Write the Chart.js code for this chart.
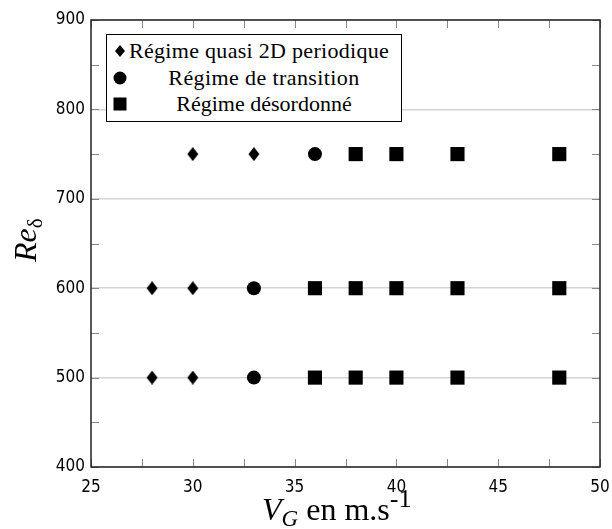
<!DOCTYPE html>
<html>
<head>
<meta charset="utf-8">
<script src="https://cdn.jsdelivr.net/npm/chart.js@4"></script>
<style>
  body { margin: 0; background: #fff; }
  #wrap { position: relative; width: 612px; height: 529px; }
  #legend {
    position: absolute; left: 106px; top: 34px; width: 296px; height: 88px;
    border: 1px solid #000; box-sizing: border-box; background: #fff;
  }
  .row { position: absolute; left: 0; right: 0; height: 26px; line-height: 26px; }
  .mk { position: absolute; left: 6px; top: 6px; width: 14px; height: 14px; }
  .txt {
    position: absolute; left: 24px; right: 4px; text-align: center; white-space: nowrap;
    font-family: 'Liberation Serif'; font-size: 22px; color: #000;
  }
  .title {
    position: absolute; font-family: 'Liberation Serif'; color: #000; white-space: nowrap;
    font-size: 32px; line-height: 32px;
  }
  .title span { position: relative; }
</style>
</head>
<body>
<div id="wrap">
  <canvas id="chart" width="612" height="529"></canvas>
  <div id="legend">
    <div class="row" style="top:3px"><canvas class="mk" width="14" height="14" data-shape="diamond"></canvas><div class="txt" style="left:22px;text-align:left;letter-spacing:0.3px">Régime quasi 2D periodique</div></div>
    <div class="row" style="top:30px"><canvas class="mk" width="14" height="14" data-shape="circle"></canvas><div class="txt" style="letter-spacing:0.4px">Régime de transition</div></div>
    <div class="row" style="top:56px"><canvas class="mk" width="14" height="14" data-shape="square"></canvas><div class="txt">Régime désordonné</div></div>
  </div>
  <div class="title" style="left:9px; top:262px; transform:rotate(-90deg); transform-origin:0 0;"><i>Re</i><span style="font-size:21px; top:6px">δ</span></div>
  <div class="title" style="left:262px; top:493px;"><i>V</i><span style="font-size:23px; top:6px"><i>G</i></span> en m.s<span style="font-size:26px; top:-13px">-1</span></div>
</div>
<script>
// --- Data ---
const periodicX = [30, 33, 28, 30, 28, 30];
const periodicY = [750, 750, 600, 600, 500, 500];
const transitionX = [36, 33, 33];
const transitionY = [750, 600, 500];
const disorderX = [38, 40, 43, 48, 36, 38, 40, 43, 48, 36, 38, 40, 43, 48];
const disorderY = [750, 750, 750, 750, 600, 600, 600, 600, 600, 500, 500, 500, 500, 500];
const xTicks = [25, 30, 35, 40, 45, 50];
const yTicks = [400, 500, 600, 700, 800, 900];

const toPoints = (xs, ys) => xs.map((x, i) => ({ x: x, y: ys[i] }));

// tall diamond marker
const diamond = document.createElement('canvas');
diamond.width = 12; diamond.height = 14;
(function () {
    const c = diamond.getContext('2d');
    c.fillStyle = '#000';
    c.beginPath();
    c.moveTo(6, 0); c.lineTo(11.5, 7); c.lineTo(6, 14); c.lineTo(0.5, 7);
    c.closePath(); c.fill();
})();

// legend markers
document.querySelectorAll('.mk').forEach(cv => {
    const c = cv.getContext('2d');
    c.fillStyle = '#000';
    const s = cv.dataset.shape;
    if (s === 'diamond') {
        c.beginPath(); c.moveTo(7, 1); c.lineTo(12, 7); c.lineTo(7, 13); c.lineTo(2, 7); c.closePath(); c.fill();
    } else if (s === 'circle') {
        c.beginPath(); c.arc(7, 7, 6.5, 0, Math.PI * 2); c.fill();
    } else {
        c.fillRect(0.5, 0.5, 13, 13);
    }
});

// inner ticks on all four sides
const innerTicks = {
    id: 'innerTicks',
    afterDatasetsDraw(chart) {
        const { ctx, chartArea: a, scales: { x, y } } = chart;
        ctx.save();
        ctx.strokeStyle = '#888';
        ctx.lineWidth = 1;
        ctx.beginPath();
        for (let v = 25; v <= 50; v += 2.5) {
            const px = Math.round(x.getPixelForValue(v)) + 0.5;
            ctx.moveTo(px, a.bottom); ctx.lineTo(px, a.bottom - 8);
            ctx.moveTo(px, a.top); ctx.lineTo(px, a.top + 8);
        }
        for (let v = 400; v <= 900; v += 50) {
            const py = Math.round(y.getPixelForValue(v)) + 0.5;
            ctx.moveTo(a.left, py); ctx.lineTo(a.left + 8, py);
            ctx.moveTo(a.right, py); ctx.lineTo(a.right - 8, py);
        }
        ctx.stroke();
        ctx.strokeStyle = '#222';
        ctx.lineWidth = 1.5;
        ctx.strokeRect(a.left, a.top, a.right - a.left, a.bottom - a.top);
        ctx.restore();
    }
};

const tickFont = { family: '"DejaVu Sans Condensed", "DejaVu Sans", sans-serif', size: 17 };

new Chart(document.getElementById('chart'), {
    type: 'scatter',
    data: {
        datasets: [
            { label: 'Régime quasi 2D periodique', data: toPoints(periodicX, periodicY), pointStyle: diamond, backgroundColor: '#000', borderColor: '#000' },
            { label: 'Régime de transition', data: toPoints(transitionX, transitionY), pointStyle: 'circle', pointRadius: 7, backgroundColor: '#000', borderColor: '#000', borderWidth: 0 },
            { label: 'Régime désordonné', data: toPoints(disorderX, disorderY), pointStyle: 'rect', pointRadius: 10, backgroundColor: '#000', borderColor: '#000', borderWidth: 0 }
        ]
    },
    options: {
        responsive: false,
        animation: false,
        events: [],
        layout: { padding: { left: 0, top: 20, right: 12, bottom: 0 } },
        plugins: { legend: { display: false }, tooltip: { enabled: false } },
        scales: {
            x: {
                type: 'linear', min: 25, max: 50,
                afterBuildTicks: s => { s.ticks = xTicks.map(v => ({ value: v })); },
                afterFit: s => { s.height = 62; },
                grid: { display: false },
                border: { display: false },
                ticks: { color: '#000', font: tickFont, padding: 2, maxRotation: 0 }
            },
            y: {
                type: 'linear', min: 400, max: 900,
                afterBuildTicks: s => { s.ticks = yTicks.map(v => ({ value: v })); },
                afterFit: s => { s.width = 91; },
                grid: { color: '#d4d4d4', lineWidth: 1.5, drawTicks: false },
                border: { display: false },
                ticks: { color: '#000', font: tickFont, padding: 6 }
            }
        }
    },
    plugins: [innerTicks]
});
</script>
</body>
</html>
